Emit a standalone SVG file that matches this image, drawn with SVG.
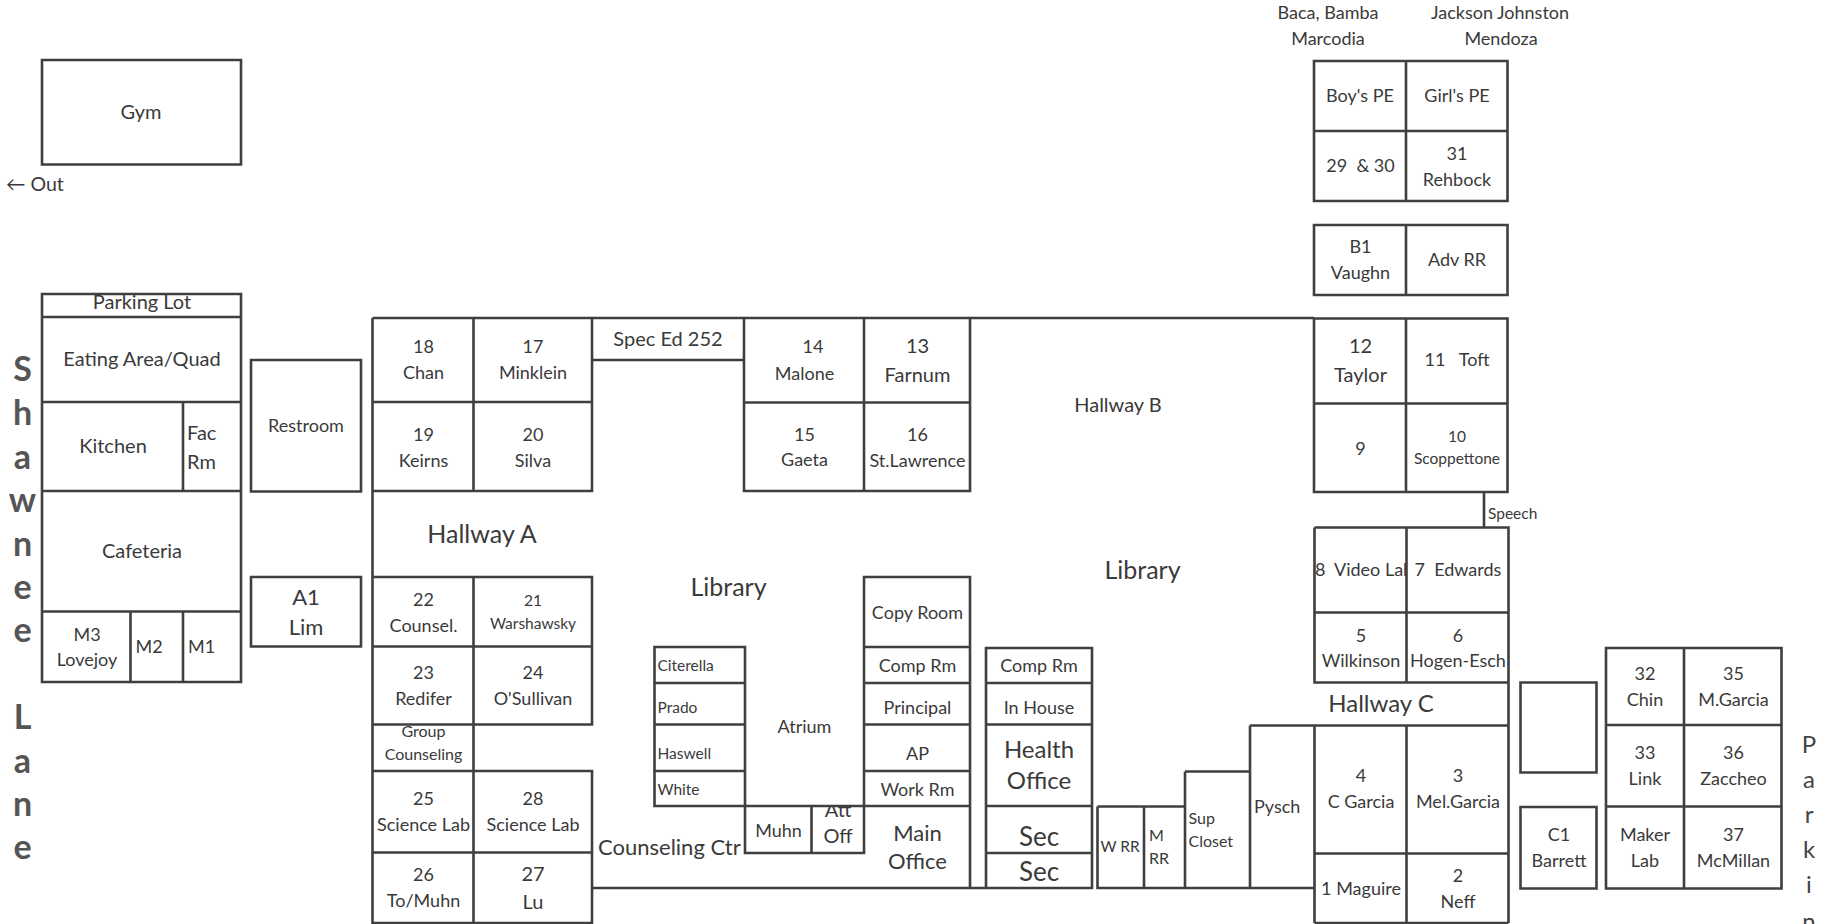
<svg xmlns="http://www.w3.org/2000/svg" width="1843" height="924" viewBox="0 0 1843 924">
<style>
text{font-family:Lato,"Open Sans","Liberation Sans",sans-serif;fill:#3a3a3a;font-size:18px;text-anchor:middle;white-space:pre}
.l{text-anchor:start}
.s{font-size:15.5px}.m{font-size:16px}.b{font-size:20px}.h{font-size:24px}
.v{font-size:34px;font-weight:700;fill:#555}
.p{font-size:24px;fill:#444}
.w{fill:none;stroke:#3f3f3f;stroke-width:2.6}
</style>
<defs>
<clipPath id="c1"><rect x="812" y="807" width="52" height="50"/></clipPath>
<clipPath id="c2"><rect x="1300" y="540" width="106" height="60"/></clipPath>
<clipPath id="c3"><rect x="42" y="295" width="199" height="22"/></clipPath>
</defs>
<rect width="1843" height="924" fill="#fff"/>
<g id="walls" class="w">
<path class="w" d="M42 60H241V164.500H42Z"/>
<path class="w" d="M42 294H241V682H42ZM42 317H241M42 402H241M42 491H241M42 611.500H241M183 402V491M130.500 611.500V682M183 611.500V682"/>
<path class="w" d="M251 360H361V491.500H251ZM251 577H361V646.500H251Z"/>
<path class="w" d="M372.500 318V923H592V771H372.500M372.500 318H1314M592 318V491H372.500M372.500 402H592M473.500 318V491M372.500 577H592V724.500H372.500M372.500 646.500H592M473.500 577V771M372.500 852.500H592M473.500 771V923"/>
<path class="w" d="M592 360H744M744 318V491H970V318M744 402.500H970M864 318V491"/>
<path class="w" d="M864 806V577H970V888M864 647H970M864 683H970M864 724.500H970M864 771H970M864 806H970"/>
<path class="w" d="M654.500 647H745V806H654.500ZM654.500 683H745M654.500 724.500H745M654.500 771H745M654.500 806H864M745 806V853H864V806M811.500 806V853"/>
<path class="w" d="M592 888H1092M986 648H1092V888H986ZM986 683H1092M986 724.500H1092M986 806H1092M986 853H1092"/>
<path class="w" d="M1097.500 806.500H1185M1097.500 806.500V888H1250M1144 806.500V888M1185 771.500V888M1185 771.500H1250M1250 725.500V888H1314.500"/>
<path class="w" d="M1250 725.500H1508.500M1314.500 527.500H1508.500V923M1314.500 527.500V682.500H1508.500M1406.500 527.500V682.500M1314.500 612.500H1508.500M1484 492V527.500M1314.500 725.500V923M1406.500 725.500V923M1314.500 853.500H1508.500M1314.500 923H1508.500"/>
<path class="w" d="M1314 61H1507.500V201H1314ZM1314 131H1507.500M1406 61V201M1406 225V295M1314 225H1507.500V295H1314ZM1314 318.500H1507.500V492H1314ZM1314 403.500H1507.500M1406 318.500V492"/>
<path class="w" d="M1520.500 682.500H1596.500V772.500H1520.500ZM1520.500 807H1596.500V888.500H1520.500Z"/>
<path class="w" d="M1606 648H1781.500V888.500H1606ZM1606 725H1781.500M1606 806.500H1781.500M1684 648V888.500"/>
</g>
<g id="left-labels">
<text x="141" y="119" class="b">Gym</text>
<text x="6" y="191" class="l" style="font-size:19.500px">← Out</text>
<text x="142" y="308.500" class="b" clip-path="url(#c3)">Parking Lot</text>
<text x="142" y="366" class="b">Eating Area/Quad</text>
<text x="113" y="453" class="b">Kitchen</text>
<text x="187" y="440" class="l b">Fac</text>
<text x="187" y="469" class="l b">Rm</text>
<text x="142" y="558" class="b">Cafeteria</text>
<text x="87" y="640.500">M3</text>
<text x="87" y="665.500">Lovejoy</text>
<text x="135.500" y="653" class="l">M2</text>
<text x="188" y="653" class="l">M1</text>
<text x="306" y="431.500">Restroom</text>
<text x="306" y="605" style="font-size:22px">A1</text>
<text x="306" y="635" style="font-size:22px">Lim</text>
<text x="22.500" y="381" class="v">S</text>
<text x="22.500" y="424.500" class="v">h</text>
<text x="22.500" y="468.500" class="v">a</text>
<text x="22.500" y="511.500" class="v">w</text>
<text x="22.500" y="555.500" class="v">n</text>
<text x="22.500" y="599" class="v">e</text>
<text x="22.500" y="642" class="v">e</text>
<text x="22.500" y="729" class="v">L</text>
<text x="22.500" y="772.500" class="v">a</text>
<text x="22.500" y="815.500" class="v">n</text>
<text x="22.500" y="859" class="v">e</text>
</g>
<g id="hallway-a-labels">
<text x="482" y="543" style="font-size:25px">Hallway A</text>
<text x="423.500" y="353">18</text><text x="423.500" y="379">Chan</text>
<text x="533" y="353">17</text><text x="533" y="379">Minklein</text>
<text x="423.500" y="441">19</text><text x="423.500" y="467">Keirns</text>
<text x="533" y="441">20</text><text x="533" y="467">Silva</text>
<text x="423.500" y="606">22</text><text x="423.500" y="632">Counsel.</text>
<text x="533" y="606" class="s">21</text><text x="533" y="629" class="s">Warshawsky</text>
<text x="423.500" y="678.500">23</text><text x="423.500" y="704.500">Redifer</text>
<text x="533" y="678.500">24</text><text x="533" y="704.500">O'Sullivan</text>
<text x="423.500" y="737" class="m">Group</text><text x="423.500" y="760" class="m">Counseling</text>
<text x="423.500" y="805">25</text><text x="423.500" y="831">Science Lab</text>
<text x="533" y="805">28</text><text x="533" y="831">Science Lab</text>
<text x="423.500" y="881">26</text><text x="423.500" y="907">To/Muhn</text>
<text x="533" y="880.500" class="b">27</text><text x="533" y="909" class="b">Lu</text>
</g>
<g id="center-labels">
<text x="668" y="346" class="b">Spec Ed 252</text>
<text x="813" y="353">14</text><text x="804.500" y="379.500">Malone</text>
<text x="917.500" y="353" class="b">13</text><text x="917.500" y="381.500" class="b">Farnum</text>
<text x="804.500" y="440.500">15</text><text x="804.500" y="466">Gaeta</text>
<text x="917.500" y="441">16</text><text x="917.500" y="467">St.Lawrence</text>
<text x="1118" y="411.500" class="b">Hallway B</text>
<text x="728.500" y="596" style="font-size:25px">Library</text>
<text x="1142.500" y="578.500" style="font-size:25px">Library</text>
<text x="917.500" y="618.500">Copy Room</text>
<text x="917.500" y="672">Comp Rm</text>
<text x="917.500" y="713.500">Principal</text>
<text x="917.500" y="760">AP</text>
<text x="917.500" y="796">Work Rm</text>
<text x="657.500" y="671" class="l s">Citerella</text>
<text x="657.500" y="713" class="l s">Prado</text>
<text x="657.500" y="759" class="l s">Haswell</text>
<text x="657.500" y="794.500" class="l s">White</text>
<text x="804.500" y="733">Atrium</text>
<text x="778.500" y="837">Muhn</text>
<text x="838" y="816.500" class="b" clip-path="url(#c1)">Att</text>
<text x="838" y="843" class="b">Off</text>
<text x="917.500" y="840.500" style="font-size:22px">Main</text>
<text x="917.500" y="868.500" style="font-size:22px">Office</text>
<text x="598" y="854.500" class="l" style="font-size:22px">Counseling Ctr</text>
<text x="1039" y="672">Comp Rm</text>
<text x="1039" y="714">In House</text>
<text x="1039" y="757.500" class="h">Health</text>
<text x="1039" y="789" class="h">Office</text>
<text x="1039" y="845.500" style="font-size:26px">Sec</text>
<text x="1039" y="881" style="font-size:26px">Sec</text>
<text x="1120" y="852" class="s">W RR</text>
<text x="1149" y="841" class="l m">M</text>
<text x="1149" y="864" class="l m">RR</text>
<text x="1188.500" y="824" class="l m">Sup</text>
<text x="1188.500" y="846.500" class="l m">Closet</text>
<text x="1254" y="812.500" class="l">Pysch</text>
</g>
<g id="right-labels">
<text x="1328" y="19">Baca, Bamba</text>
<text x="1328" y="44.500">Marcodia</text>
<text x="1500" y="19">Jackson Johnston</text>
<text x="1501" y="44.500">Mendoza</text>
<text x="1360" y="102">Boy's PE</text>
<text x="1457" y="102">Girl's PE</text>
<text x="1360.500" y="172">29  &amp; 30</text>
<text x="1457" y="159.500">31</text><text x="1457" y="185.500">Rehbock</text>
<text x="1360.500" y="252.500">B1</text><text x="1360.500" y="278.500">Vaughn</text>
<text x="1457" y="265.500">Adv RR</text>
<text x="1360.500" y="352.500" class="b">12</text><text x="1360.500" y="381.500" class="b">Taylor</text>
<text x="1457" y="366">11   Toft</text>
<text x="1360.500" y="454.500">9</text>
<text x="1457" y="441.500" class="s">10</text><text x="1457" y="464" class="s">Scoppettone</text>
<text x="1488" y="518.500" class="l s">Speech</text>
<text x="1315" y="576" class="l" clip-path="url(#c2)">8  Video Lab</text>
<text x="1414.500" y="576" class="l">7  Edwards</text>
<text x="1361" y="641.500">5</text><text x="1361" y="667">Wilkinson</text>
<text x="1458" y="641.500">6</text><text x="1458" y="667">Hogen-Esch</text>
<text x="1381" y="712" style="font-size:24px">Hallway C</text>
<text x="1361" y="781.500">4</text><text x="1361" y="808">C Garcia</text>
<text x="1458" y="781.500">3</text><text x="1458" y="808">Mel.Garcia</text>
<text x="1361" y="895">1 Maguire</text>
<text x="1458" y="881.500">2</text><text x="1458" y="907.500">Neff</text>
<text x="1559" y="840.500">C1</text><text x="1559" y="866.500">Barrett</text>
<text x="1645" y="679.500">32</text><text x="1645" y="705.500">Chin</text>
<text x="1733.500" y="679.500">35</text><text x="1733.500" y="705.500">M.Garcia</text>
<text x="1645" y="758.500">33</text><text x="1645" y="784.500">Link</text>
<text x="1733.500" y="758.500">36</text><text x="1733.500" y="784.500">Zaccheo</text>
<text x="1645" y="840.500">Maker</text><text x="1645" y="866.500">Lab</text>
<text x="1733.500" y="840.500">37</text><text x="1733.500" y="866.500">McMillan</text>
<text x="1809" y="753" class="p">P</text>
<text x="1809" y="788" class="p">a</text>
<text x="1809" y="823" class="p">r</text>
<text x="1809" y="858" class="p">k</text>
<text x="1809" y="893" class="p">i</text>
<text x="1809" y="930" class="p">n</text>
</g>
</svg>
